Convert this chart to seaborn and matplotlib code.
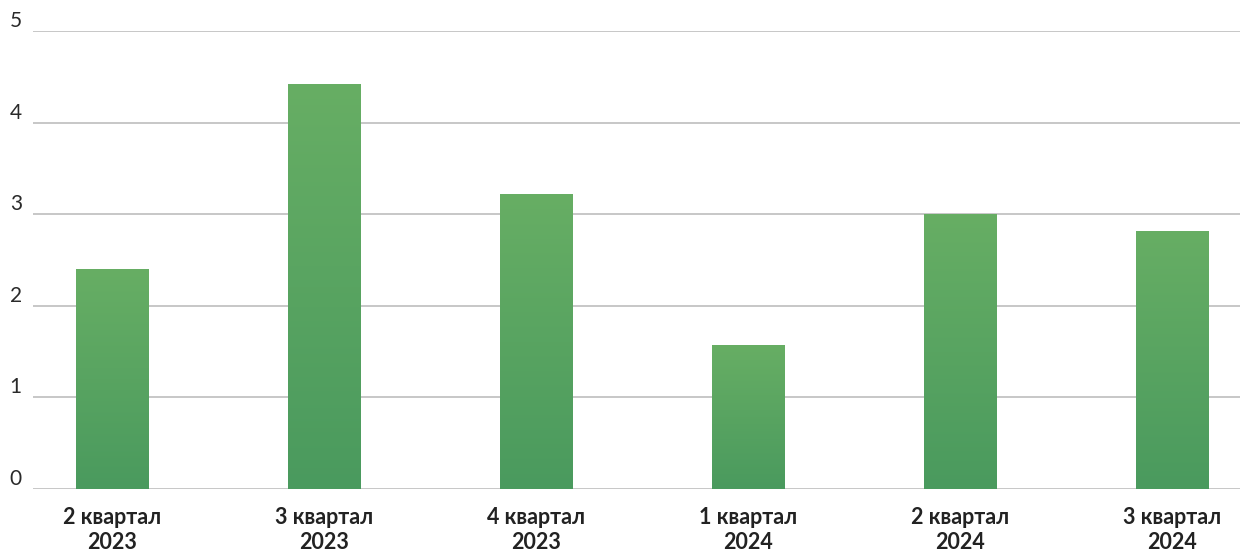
import numpy as np
import pandas as pd
import matplotlib
matplotlib.use("Agg")
import matplotlib.pyplot as plt
import seaborn as sns
from matplotlib.colors import LinearSegmentedColormap

quarters = ["2 квартал\n2023", "3 квартал\n2023", "4 квартал\n2023",
            "1 квартал\n2024", "2 квартал\n2024", "3 квартал\n2024"]
values = [2.4, 4.42, 3.22, 1.57, 3.0, 2.82]
y_ticks = [0, 1, 2, 3, 4, 5]

df = pd.DataFrame({"quarter": quarters, "value": values})

sns.set_theme(style="white")
plt.rcParams["font.family"] = ["Lato", "DejaVu Sans"]

fig = plt.figure(figsize=(12.4, 5.51), dpi=100)
ax = fig.add_axes([33 / 1240, 1 - 489 / 551, 1207 / 1240, 458 / 551])

sns.barplot(data=df, x="quarter", y="value", ax=ax, color="#58a560",
            width=0.34, saturation=1, edgecolor="none")

# vertical green gradient inside each bar
cmap = LinearSegmentedColormap.from_list("g", ["#4a9a5e", "#67ae64"])
grad = np.linspace(0, 1, 256).reshape(-1, 1)
for patch in ax.patches:
    x0, y0 = patch.get_x(), patch.get_y()
    w, h = patch.get_width(), patch.get_height()
    im = ax.imshow(grad, cmap=cmap, origin="lower", aspect="auto",
                   extent=[x0, x0 + w, y0, y0 + h], zorder=3)
    im.set_clip_path(patch)

ax.set_xlim(-0.373, 5.32)
ax.set_ylim(0, 5)
ax.set_yticks(y_ticks)
ax.set_yticklabels([str(t) for t in y_ticks])
ax.yaxis.grid(True, color="#bdbdbd", linewidth=1.2)
ax.set_axisbelow(True)
for s in ax.spines.values():
    s.set_visible(False)
ax.tick_params(axis="y", length=0, pad=8, labelsize=15, labelcolor="#2a2a2a")
ax.tick_params(axis="x", length=0, pad=13, labelsize=15.5, labelcolor="#222222")
for lbl in ax.get_xticklabels():
    lbl.set_fontweight("bold")
    lbl.set_linespacing(1.22)
for lbl in ax.get_yticklabels():
    lbl.set_verticalalignment("bottom")
ax.set_xlabel("")
ax.set_ylabel("")

fig.savefig("out.png", dpi=100, facecolor="white")
